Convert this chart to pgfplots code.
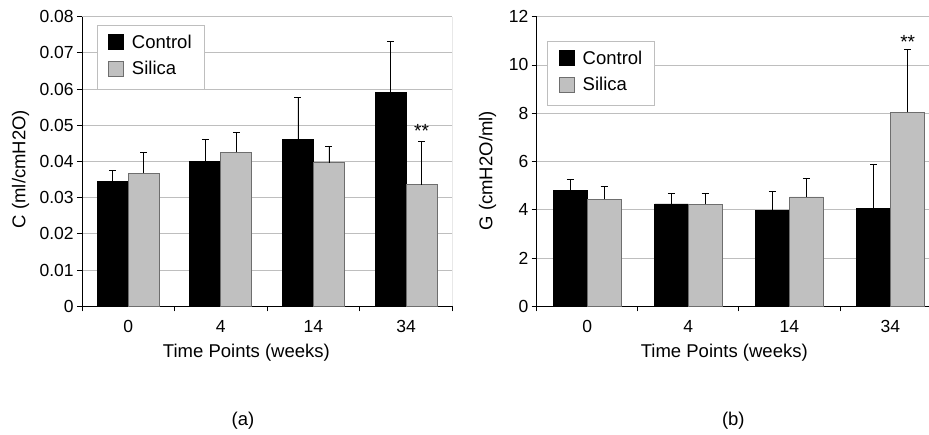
\documentclass[border=0pt]{standalone}
\usepackage{pgfplots}
\pgfplotsset{compat=1.18}
\usepackage{pgfplotstable}
\usepackage{fontspec}
\setmainfont{Liberation Sans}
\definecolor{silfill}{RGB}{192,192,192}
\definecolor{silbord}{RGB}{110,110,110}
\definecolor{gridc}{RGB}{190,190,190}

\pgfplotstableread{
x c ce s se
0 0.0345 0.0030 0.0368 0.0056
1 0.0400 0.0060 0.0425 0.0056
2 0.0461 0.0116 0.0397 0.0046
3 0.0591 0.0141 0.0336 0.0120
}\dataC
\pgfplotstableread{
x c ce s se
0 4.79 0.46 4.43 0.53
1 4.24 0.44 4.23 0.45
2 3.99 0.76 4.53 0.75
3 4.05 1.81 8.04 2.61
}\dataG

\pgfplotsset{
  common/.style={
    scale only axis, height=289.6pt,
    ybar=0pt,
    xmin=-0.5, xmax=3.5, ymin=0,
    scaled y ticks=false,
    xtick={0,1,2,3}, xticklabels={0,4,14,34},
    minor xtick={-0.5,0.5,1.5,2.5,3.5},
    major x tick style={draw=none},
    minor x tick style={black, line width=0.8pt},
    minor tick length=5pt, major tick length=5pt,
    tick align=outside,
    xtick pos=bottom, ytick pos=left,
    ytick style={black, line width=0.8pt},
    axis x line*=bottom, axis y line*=left,
    axis line style={black, line width=0.8pt, -},
    ymajorgrids, grid style={gridc, line width=0.8pt},
    tick label style={font=\fontsize{17.5}{20}\selectfont},
    xticklabel style={anchor=center, yshift=-14.7pt},
    yticklabel style={inner sep=0pt, xshift=-3.2pt},
    label style={font=\fontsize{18.5}{22}\selectfont},
    /pgf/number format/assume math mode=true,
    legend style={draw=none, fill=none, anchor=north west,
      font=\fontsize{18.5}{22}\selectfont, inner xsep=11pt, inner ysep=9pt,
      row sep=11pt, column sep=8pt, nodes={inner sep=0pt}},
    legend cell align=left,
    legend image code/.code={\draw[#1, line width=0.8pt] (0pt,-7.5pt) rectangle (15pt,7.5pt);},
    error bars/y dir=plus, error bars/y explicit,
    error bars/error bar style={black, line width=0.8pt},
    error bars/error mark options={black, line width=0.8pt, rotate=90, mark size=3.5pt},
  },
}

\begin{document}
\begin{tikzpicture}
\useasboundingbox (0,0) rectangle (929pt,434pt);
\begin{axis}[common, at={(82pt,127.7pt)}, anchor=south west, width=370.3pt,
  bar width=31pt, ymax=0.08,
  ytick={0,0.01,0.02,0.03,0.04,0.05,0.06,0.07,0.08},
  yticklabels={0,0.01,0.02,0.03,0.04,0.05,0.06,0.07,0.08},
  xlabel={Time Points (weeks)}, ylabel={C (ml/cmH2O)},
  xlabel style={at={(axis description cs:0.444,0)}, anchor=center, yshift=-46.7pt},
  ylabel style={at={(axis description cs:-0.166,0.474)}, anchor=center},
  legend style={at={(0.0405,0.971)}}]
\draw[gridc, fill=white, line width=0.8pt] (rel axis cs:0.0405,0.9713) rectangle (rel axis cs:0.3295,0.7504);
\addplot[fill=black, draw=black, line width=0.8pt] table[x=x, y=c, y error=ce] {\dataC};
\addplot[fill=silfill, draw=silbord, line width=0.8pt] table[x=x, y=s, y error=se] {\dataC};
\legend{Control, Silica}
\draw[gridc, line width=0.8pt] (rel axis cs:1,0) -- (rel axis cs:1,1);
\node[font=\fontsize{19}{22}\selectfont, anchor=base] at (axis cs:3.1675,0.0466) {**};
\end{axis}
\begin{axis}[common, at={(536.7pt,127.7pt)}, anchor=south west, width=404.3pt,
  bar width=33.8pt, ymax=12, ytick={0,2,4,6,8,10,12},
  xlabel={Time Points (weeks)}, ylabel={G (cmH2O/ml)},
  xlabel style={at={(axis description cs:0.464,0)}, anchor=center, yshift=-46.7pt},
  ylabel style={at={(axis description cs:-0.1217,0.468)}, anchor=center},
  legend style={at={(0.0272,0.916)}}]
\draw[gridc, fill=white, line width=0.8pt] (rel axis cs:0.0272,0.9161) rectangle (rel axis cs:0.2909,0.6951);
\addplot[fill=black, draw=black, line width=0.8pt] table[x=x, y=c, y error=ce] {\dataG};
\addplot[fill=silfill, draw=silbord, line width=0.8pt] table[x=x, y=s, y error=se] {\dataG};
\legend{Control, Silica}
\node[font=\fontsize{19}{22}\selectfont, anchor=base] at (axis cs:3.17,10.67) {**};
\end{axis}
\node[font=\fontsize{18.5}{22}\selectfont] at (243pt,13pt) {(a)};
\node[font=\fontsize{18.5}{22}\selectfont] at (733.3pt,13pt) {(b)};
\end{tikzpicture}
\end{document}
